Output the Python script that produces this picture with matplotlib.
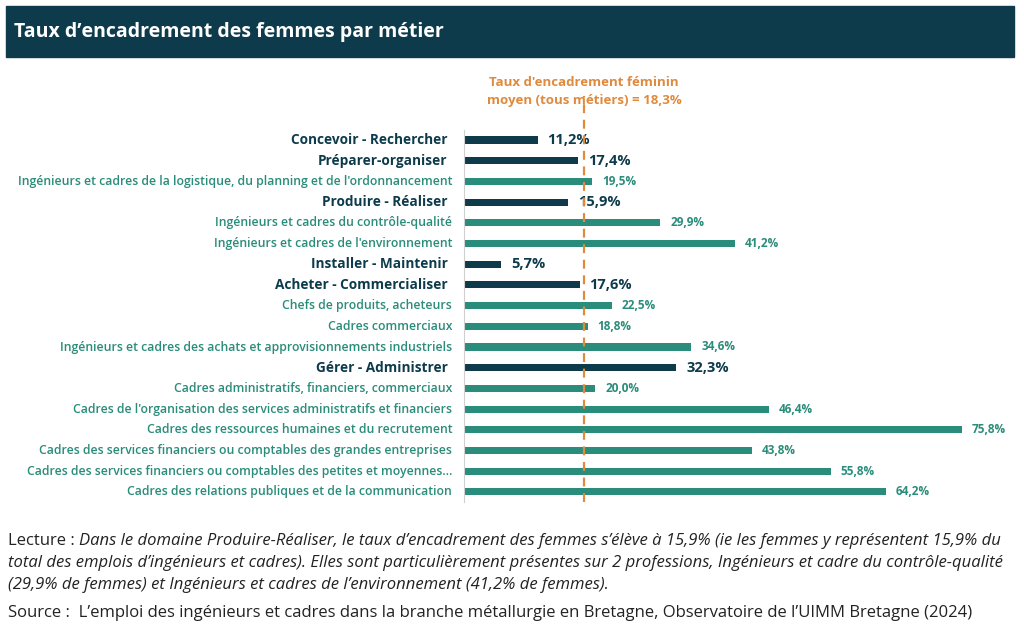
import numpy as np
import matplotlib
matplotlib.use('Agg')
import matplotlib.pyplot as plt
from matplotlib.patches import Rectangle

plt.rcParams['font.family'] = ['Open Sans', 'DejaVu Sans']

# données
labels = [
    "Concevoir - Rechercher",
    "Préparer-organiser",
    "Ingénieurs et cadres de la logistique, du planning et de l'ordonnancement",
    "Produire - Réaliser",
    "Ingénieurs et cadres du contrôle-qualité",
    "Ingénieurs et cadres de l'environnement",
    "Installer - Maintenir",
    "Acheter - Commercialiser",
    "Chefs de produits, acheteurs",
    "Cadres commerciaux",
    "Ingénieurs et cadres des achats et approvisionnements industriels",
    "Gérer - Administrer",
    "Cadres administratifs, financiers, commerciaux",
    "Cadres de l'organisation des services administratifs et financiers",
    "Cadres des ressources humaines et du recrutement",
    "Cadres des services financiers ou comptables des grandes entreprises",
    "Cadres des services financiers ou comptables des petites et moyennes…",
    "Cadres des relations publiques et de la communication",
]
values = [11.2, 17.4, 19.5, 15.9, 29.9, 41.2, 5.7, 17.6, 22.5, 18.8, 34.6,
          32.3, 20.0, 46.4, 75.8, 43.8, 55.8, 64.2]
is_domain = [True, True, False, True, False, False, True, True, False, False,
             False, True, False, False, False, False, False, False]
moyenne = 18.3

DARK = '#0d3b4c'
TEAL = '#2a8c7a'
ORANGE = '#e08a3e'
W, H = 1024, 640

fig = plt.figure(figsize=(W / 100, H / 100), dpi=100)

# bandeau titre
fig.patches.append(Rectangle((6 / W, 1 - 57 / H), 1008 / W, 51 / H,
                             transform=fig.transFigure, color=DARK, zorder=0))
fig.text(14 / W, 1 - 32 / H, "Taux d’encadrement des femmes par métier",
         color='white', fontsize=14, fontweight='bold', va='center', ha='left')

# axes en pixels
px_per_unit = 6.57
left, right = 464, 1014
row = 20.7
top = 140 - row / 2
bottom = top + row * len(values)
ax = fig.add_axes([left / W, 1 - bottom / H, (right - left) / W, (bottom - top) / H])
ax.set_xlim(0, (right - left) / px_per_unit)
ax.set_ylim(len(values) - 0.5, -0.5)

y = np.arange(len(values))
colors = [DARK if d else TEAL for d in is_domain]
ax.barh(y, values, height=0.34, color=colors, zorder=2)

for i, (v, d) in enumerate(zip(values, is_domain)):
    txt = f"{v:.1f}%".replace('.', ',')
    ax.text(v + 1.5, i, txt, va='center', ha='left', color=DARK if d else TEAL,
            fontsize=10.5 if d else 8.5, fontweight='bold')
    ax.text(-1.8 if not d else -2.5, i, labels[i], va='center', ha='right',
            color=DARK if d else TEAL,
            fontsize=9.8 if d else 8.8, fontweight='bold' if d else 'semibold')

ax.axvline(moyenne, ymin=0, ymax=1.09, color=ORANGE, linestyle=(0, (4, 3)),
           linewidth=1.6, zorder=3, clip_on=False)
ax.text(moyenne, -2.35, "Taux d'encadrement féminin\nmoyen (tous métiers) = 18,3%",
        ha='center', va='center', color=ORANGE, fontsize=9.5, fontweight='bold',
        linespacing=1.5)

for s in ['top', 'right', 'bottom']:
    ax.spines[s].set_visible(False)
ax.spines['left'].set_color('#d0d0d0')
ax.spines['left'].set_linewidth(0.8)
ax.set_xticks([])
ax.set_yticks([])

# note de lecture
foot_font = ['Open Sans', 'DejaVu Sans']
fs = 12
renderer = fig.canvas.get_renderer()
t0 = fig.text(8 / W, 1 - 541 / H, "Lecture : ", fontsize=fs, family=foot_font,
              va='center', ha='left', color='#222222')
bb = t0.get_window_extent(renderer)
fig.text(bb.x1 / W, 1 - 541 / H,
         "Dans le domaine Produire-Réaliser, le taux d’encadrement des femmes s’élève à 15,9% "
         "(ie les femmes y représentent 15,9% du",
         fontsize=fs, family=foot_font, style='italic', va='center', ha='left', color='#222222')
fig.text(8 / W, 1 - 563 / H,
         "total des emplois d’ingénieurs et cadres). Elles sont particulièrement présentes sur 2 "
         "professions, Ingénieurs et cadre du contrôle-qualité",
         fontsize=fs, family=foot_font, style='italic', va='center', ha='left', color='#222222')
fig.text(8 / W, 1 - 585 / H,
         "(29,9% de femmes) et Ingénieurs et cadres de l’environnement (41,2% de femmes).",
         fontsize=fs, family=foot_font, style='italic', va='center', ha='left', color='#222222')
fig.text(8 / W, 1 - 613 / H,
         "Source :  L’emploi des ingénieurs et cadres dans la branche métallurgie en Bretagne, "
         "Observatoire de l’UIMM Bretagne (2024)",
         fontsize=fs, family=foot_font, va='center', ha='left', color='#222222')

fig.savefig('out.png', dpi=100)
